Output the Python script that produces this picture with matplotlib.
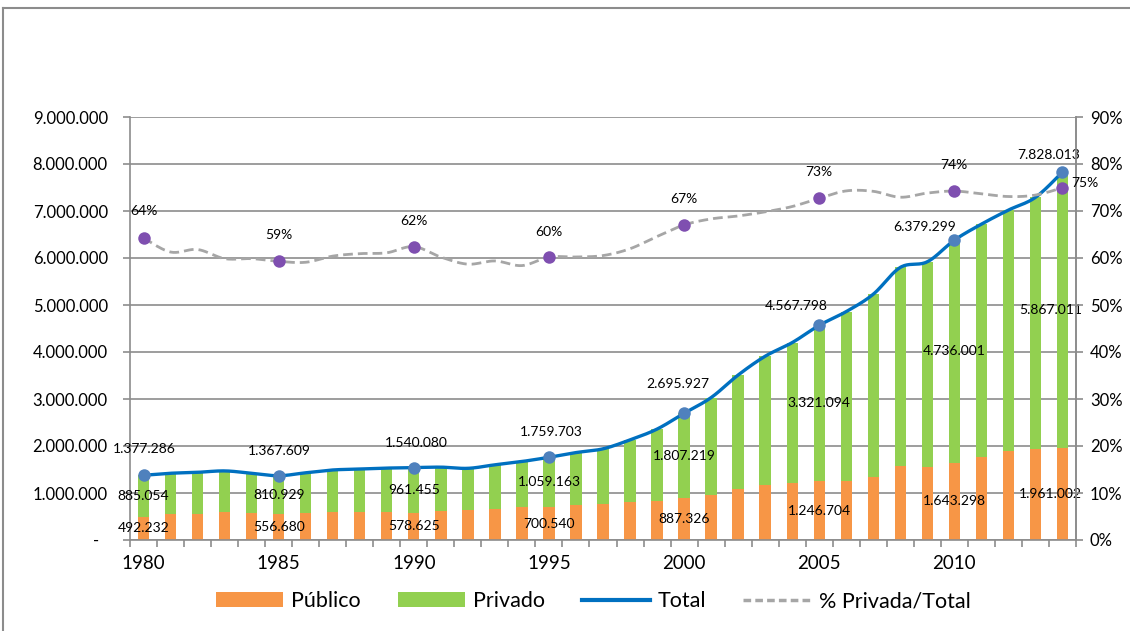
import numpy as np
import matplotlib
matplotlib.use("Agg")
import matplotlib.pyplot as plt
from matplotlib.patches import Patch
from matplotlib.lines import Line2D

plt.rcParams['font.family'] = ['Lato', 'DejaVu Sans']

# ---------------- data ----------------
years = list(range(1980, 2015))
publico = [492232, 550000, 550000, 590000, 570000, 556680, 585000, 590000, 590000, 595000,
           578625, 617000, 630000, 650000, 695000, 700540, 740000, 766000, 810000, 836000,
           887326, 960000, 1090000, 1180000, 1220000, 1246704, 1250000, 1350000, 1570000, 1550000,
           1643298, 1770000, 1890000, 1940000, 1961002]
privado = [885054, 870000, 890000, 880000, 850000, 810929, 845000, 900000, 920000, 935000,
           961455, 933000, 895000, 950000, 975000, 1059163, 1120000, 1174000, 1320000, 1524000,
           1807219, 2070000, 2420000, 2730000, 2980000, 3321094, 3610000, 3880000, 4230000, 4370000,
           4736001, 4950000, 5130000, 5350000, 5867011]
total = [1377286, 1420000, 1440000, 1470000, 1420000, 1367609, 1430000, 1490000, 1510000, 1530000,
         1540080, 1550000, 1525000, 1600000, 1670000, 1759703, 1860000, 1940000, 2130000, 2360000,
         2695927, 3030000, 3510000, 3910000, 4200000, 4567798, 4860000, 5230000, 5800000, 5920000,
         6379299, 6720000, 7020000, 7290000, 7828013]
labeled_years = [1980, 1985, 1990, 1995, 2000, 2005, 2010, 2014]
xtick_years = [1980, 1985, 1990, 1995, 2000, 2005, 2010]
series_names = ["Público", "Privado", "Total", "% Privada/Total"]

publico_a = np.array(publico, dtype=float)
privado_a = np.array(privado, dtype=float)
total_a = np.array(total, dtype=float)
pct_a = privado_a / total_a

# ---------------- style ----------------
C_PUB = "#F79646"
C_PRI = "#92D050"
C_TOT = "#0070C0"
C_TOT_M = "#4F81BD"
C_PCT = "#A6A6A6"
C_PCT_M = "#7F4FB0"
C_GRID = "#8C8C8C"

W, H = 1130, 631
fig = plt.figure(figsize=(W / 100, H / 100), dpi=100)
ax = fig.add_axes([130 / W, 91 / H, 946 / W, 423 / H])
ax2 = ax.twinx()

x = np.arange(len(years))
idx = {y: i for i, y in enumerate(years)}


def smooth(xs, ys, n=20):
    xs = np.asarray(xs, float)
    ys = np.asarray(ys, float)
    P = np.column_stack([xs, ys])
    out = []
    for i in range(len(P) - 1):
        p0 = P[i - 1] if i > 0 else P[i]
        p1 = P[i]
        p2 = P[i + 1]
        p3 = P[i + 2] if i + 2 < len(P) else P[i + 1]
        c1 = p1 + (p2 - p0) / 6.0
        c2 = p2 - (p3 - p1) / 6.0
        t = np.linspace(0, 1, n, endpoint=(i == len(P) - 2))[:, None]
        seg = ((1 - t) ** 3) * p1 + 3 * ((1 - t) ** 2) * t * c1 + 3 * (1 - t) * t ** 2 * c2 + t ** 3 * p2
        out.append(seg)
    out = np.vstack(out)
    return out[:, 0], out[:, 1]


# bars
bw = 0.42
ax.bar(x, publico_a, width=bw, color=C_PUB, zorder=2, linewidth=0)
ax.bar(x, privado_a, width=bw, bottom=publico_a, color=C_PRI, zorder=2, linewidth=0)

# total line
sx, sy = smooth(x, total_a)
ax.plot(sx, sy, color=C_TOT, lw=2.4, zorder=4, solid_capstyle='round')
li = [idx[y] for y in labeled_years]
ax.plot(x[li], total_a[li], 'o', color=C_TOT_M, ms=9, zorder=5, markeredgewidth=0)

# pct line
px, py = smooth(x, pct_a)
ax2.plot(px, py, color=C_PCT, lw=2.0, ls=(0, (3.5, 1.8)), zorder=3)
ax2.plot(x[li], pct_a[li], 'o', color=C_PCT_M, ms=9, zorder=5, markeredgewidth=0)

# axes limits / ticks
ax.set_xlim(-0.5, len(years) - 0.5)
ax.set_ylim(0, 9e6)
ax2.set_ylim(0, 0.9)


def fmt_num(v):
    return f"{v:,.0f}".replace(",", ".")


yt = np.arange(0, 9e6 + 1, 1e6)
ax.set_yticks(yt)
ax.set_yticklabels(["-  " if v == 0 else fmt_num(v) for v in yt], fontsize=12)
pt = np.arange(0, 0.91, 0.1)
ax2.set_yticks(pt)
ax2.set_yticklabels([f"{round(v * 100):d}%" for v in pt], fontsize=12)

ax.set_xticks(np.arange(-0.5, len(years) - 0.4, 1.0))
ax.set_xticklabels([])
ax.tick_params(axis='x', which='major', length=5, color=C_GRID, width=1.2, direction='out')
ax.set_xticks([idx[y] for y in xtick_years], minor=True)
ax.set_xticklabels([str(y) for y in xtick_years], minor=True, fontsize=13.5)
ax.tick_params(axis='x', which='minor', length=0, pad=11)

ax.tick_params(axis='y', length=5, color=C_GRID, width=1.2, pad=11)
ax2.tick_params(axis='y', length=5, color=C_GRID, width=1.2, pad=5)

ax.grid(axis='y', color=C_GRID, lw=1.2, zorder=0)
ax.set_axisbelow(True)
for a in (ax, ax2):
    for s in a.spines.values():
        s.set_color(C_GRID)
        s.set_linewidth(1.2)
    a.spines['top'].set_visible(False)
ax2.spines['left'].set_visible(False)
ax2.spines['bottom'].set_visible(False)

# data labels
tot_off = {1980: (1, 26), 1985: (1, 25), 1990: (2, 25), 1995: (2, 25.5), 2000: (-6, 29),
           2005: (-23, 19), 2010: (-30, 13), 2014: (-14, 17)}
pct_off = {1980: (0, 27), 1985: (0, 26), 1990: (0, 26), 1995: (0, 25), 2000: (0, 26),
           2005: (0, 26), 2010: (0, 26), 2014: (22, 5)}
seg_dx = {2014: -12}
fs = 10
for y in labeled_years:
    i = idx[y]
    dx, dy = tot_off[y]
    ax.annotate(fmt_num(total_a[i]), (i, total_a[i]), xytext=(dx * 0.72, dy * 0.72),
                textcoords='offset points', ha='center', va='center', fontsize=fs, zorder=6)
    dx, dy = pct_off[y]
    ax2.annotate(f"{round(pct_a[i] * 100):d}%", (i, pct_a[i]), xytext=(dx * 0.72, dy * 0.72),
                 textcoords='offset points', ha='center', va='center', fontsize=fs, zorder=6)
    sdx = seg_dx.get(y, 0) * 0.72
    ax.annotate(fmt_num(privado_a[i]), (i, publico_a[i] + privado_a[i] / 2), xytext=(sdx, 0),
                textcoords='offset points', ha='center', va='center', fontsize=fs, zorder=6)
    ax.annotate(fmt_num(publico_a[i]), (i, publico_a[i] / 2), xytext=(sdx, 0),
                textcoords='offset points', ha='center', va='center', fontsize=fs, zorder=6)

# legend
handles = [Patch(facecolor=C_PUB, edgecolor='none'),
           Patch(facecolor=C_PRI, edgecolor='none'),
           Line2D([], [], color=C_TOT, lw=3),
           Line2D([], [], color=C_PCT, lw=2.5, ls=(0, (2.2, 1.2)))]
fig.legend(handles, series_names, loc='center', bbox_to_anchor=(593 / W, 1 - 601 / H),
           ncol=4, frameon=False, fontsize=15.5, handlelength=3.15, handleheight=0.65,
           handletextpad=0.37, columnspacing=1.7)

# outer chart frame
fig.add_artist(Line2D([3 / W, 1], [1 - 8 / H, 1 - 8 / H], color="#8C8C8C", lw=1.5,
                      transform=fig.transFigure))
fig.add_artist(Line2D([3 / W, 3 / W], [0, 1 - 8 / H], color="#8C8C8C", lw=1.5,
                      transform=fig.transFigure))

fig.savefig("out.png", dpi=100)
